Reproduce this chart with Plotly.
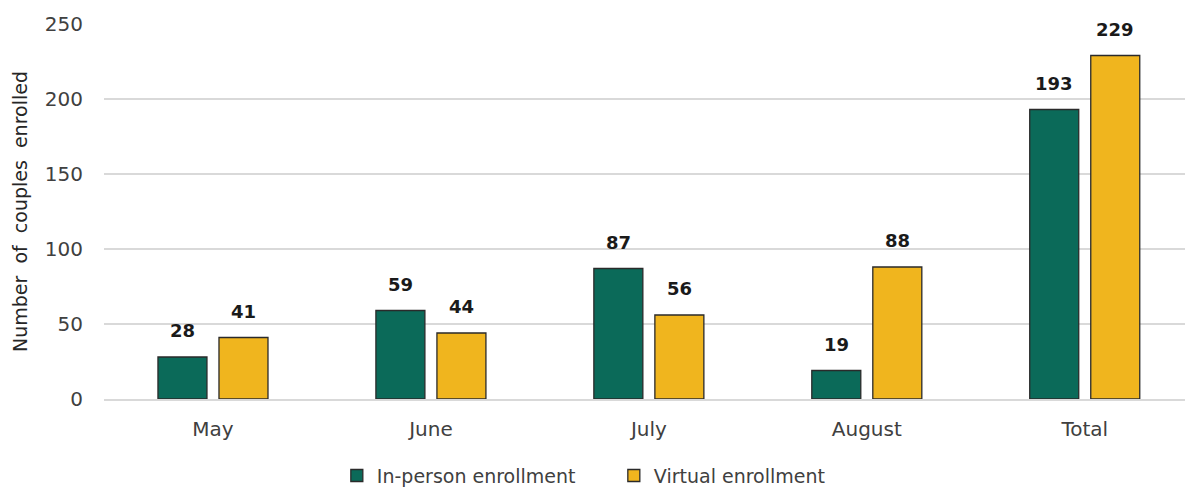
import plotly.graph_objects as go

months = ["May", "June", "July", "August", "Total"]
in_person = [28, 59, 87, 19, 193]
virtual = [41, 44, 56, 88, 229]
y_ticks = [0, 50, 100, 150, 200, 250]

green = "#0B6A59"
yellow = "#F0B51E"
outline = "#2a2a2a"
font_family = "DejaVu Sans, Liberation Sans, Arial, sans-serif"
label_color = "#1a1a1a"

fig = go.Figure()
fig.add_trace(go.Bar(
    x=months, y=in_person, name="In-person enrollment",
    marker=dict(color=green, line=dict(color=outline, width=1.3)),
))
fig.add_trace(go.Bar(
    x=months, y=virtual, name="Virtual enrollment",
    marker=dict(color=yellow, line=dict(color=outline, width=1.3)),
))

# value labels above bars, positioned from the data
for vals, shift in ((in_person, -30.5), (virtual, 30.5)):
    for m, v in zip(months, vals):
        fig.add_annotation(
            x=m, y=v, text=f"<b>{v}</b>", showarrow=False,
            xshift=shift, yshift=14, yanchor="bottom",
            font=dict(family=font_family, size=18, color=label_color),
        )

fig.update_layout(
    width=1185, height=491,
    margin=dict(l=104, r=0, t=24, b=92),
    paper_bgcolor="white", plot_bgcolor="white",
    barmode="group", bargap=0.44, bargroupgap=0.197,
    font=dict(family=font_family, color="#404040", size=20),
    showlegend=True,
    legend=dict(orientation="h", xref="container", x=0.518, xanchor="center",
                yref="container", y=0.07, yanchor="top",
                font=dict(size=19, color="#404040"), itemwidth=30,
                entrywidth=232, tracegroupgap=0),
)
fig.update_xaxes(
    range=[-0.5, 4.46], showgrid=False, showline=True,
    linecolor="#d9d9d9", linewidth=1.5, ticks="",
    tickfont=dict(size=20, color="#404040"), ticklabelstandoff=11,
)
fig.update_yaxes(
    range=[0, 250], tickvals=y_ticks, showgrid=True, gridcolor="#d9d9d9",
    gridwidth=1.5, zeroline=False, showline=False, ticks="",
    tickfont=dict(size=20, color="#404040"), ticklabelstandoff=20,
    title=dict(text="Number\u00a0 of\u00a0 couples\u00a0 enrolled",
               font=dict(size=19, color="#262626"), standoff=12),
)

fig.write_html("out.html")
